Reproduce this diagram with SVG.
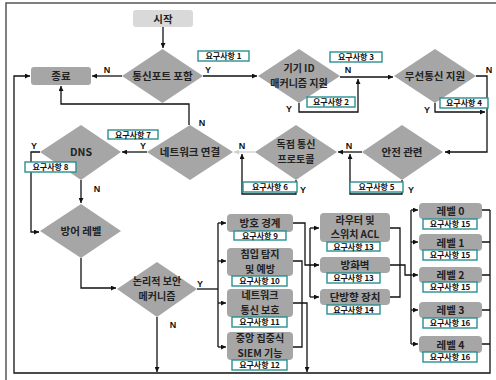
<svg xmlns="http://www.w3.org/2000/svg" width="496" height="380" viewBox="0 0 496 380">
<style>
.d{fill:#a6a6a6}
.b{fill:#a6a6a6}
.s{fill:#d9d9d9}
.l{fill:#fff;stroke:#2a9090;stroke-width:1.4}
.t{font-family:"Noto Sans CJK KR","Noto Sans",sans-serif;font-weight:bold;font-size:10.5px;fill:#222;text-anchor:middle}
.t2{font-family:"Noto Sans CJK KR","Noto Sans",sans-serif;font-weight:bold;font-size:10px;fill:#222;text-anchor:middle}
.lt{font-family:"Noto Sans CJK KR","Noto Sans",sans-serif;font-weight:bold;font-size:8px;fill:#111;text-anchor:middle}
.yn{font-family:"Liberation Sans",Arial,sans-serif;font-weight:bold;font-size:9px;fill:#111;text-anchor:middle}
.c{fill:none;stroke:#111;stroke-width:1.3}
.cg{fill:none;stroke:#d0d0d0;stroke-width:1.3}
</style>
<defs>
<marker id="a" viewBox="0 0 6 6" refX="6" refY="3" markerWidth="5" markerHeight="5" markerUnits="userSpaceOnUse" orient="auto"><path d="M0,0L6,3L0,6z" fill="#111"/></marker>
<marker id="ag" viewBox="0 0 6 6" refX="6" refY="3" markerWidth="5" markerHeight="5" markerUnits="userSpaceOnUse" orient="auto"><path d="M0,0L6,3L0,6z" fill="#d0d0d0"/></marker>
</defs>
<path d="M6,380V3H496" fill="none" stroke="#555" stroke-width="1.5"/>
<g id="connectors">
<path class="c" d="M163,27V48" marker-end="url(#a)"/>
<path class="c" d="M122,76H92" marker-end="url(#a)"/>
<path class="c" d="M203,76H257" marker-end="url(#a)"/>
<path class="c" d="M340,77H393" marker-end="url(#a)"/>
<path class="c" d="M299,103V112H358V79" marker-end="url(#a)"/>
<path class="c" d="M476,76H487V152H445" marker-end="url(#a)"/>
<path class="c" d="M435,103V112H485" marker-end="url(#a)"/>
<path class="c" d="M362,152H338" marker-end="url(#a)"/>
<path class="c" d="M402,180V194H350V154" marker-end="url(#a)"/>
<path class="cg" d="M255,152H234" marker-end="url(#ag)"/>
<path class="c" d="M296,180V194H242V154" marker-end="url(#a)"/>
<path class="c" d="M189,125V104H61V86" marker-end="url(#a)"/>
<path class="c" d="M147,152H122" marker-end="url(#a)"/>
<path class="c" d="M40,152H31V232H39" marker-end="url(#a)"/>
<path class="c" d="M81,180V203" marker-end="url(#a)"/>
<path class="c" d="M81,258V288H116" marker-end="url(#a)"/>
<path class="c" d="M157,317V372" marker-end="url(#a)"/>
<path class="c" d="M197,289H218"/>
<path class="c" d="M218,223V347"/>
<path class="c" d="M218,223H226" marker-end="url(#a)"/>
<path class="c" d="M218,261H226" marker-end="url(#a)"/>
<path class="c" d="M218,303H226" marker-end="url(#a)"/>
<path class="c" d="M218,347H226" marker-end="url(#a)"/>
<path class="c" d="M293,223H305V265H319" marker-end="url(#a)"/>
<path class="c" d="M310,228V297"/>
<path class="c" d="M310,228H319" marker-end="url(#a)"/>
<path class="c" d="M310,297H319" marker-end="url(#a)"/>
<path class="c" d="M293,261H302V347H293"/>
<path class="c" d="M293,303H307V372" marker-end="url(#a)"/>
<path class="c" d="M390,228H400V297H390"/>
<path class="c" d="M390,265H405V275H411"/>
<path class="c" d="M411,210V344"/>
<path class="c" d="M411,210H418" marker-end="url(#a)"/>
<path class="c" d="M411,242H418" marker-end="url(#a)"/>
<path class="c" d="M411,275H418" marker-end="url(#a)"/>
<path class="c" d="M411,310H418" marker-end="url(#a)"/>
<path class="c" d="M411,344H418" marker-end="url(#a)"/>
<path class="c" d="M482,210H490M482,242H490M482,275H490M482,310H490M482,344H490"/>
<path class="c" d="M490,210V373H14V76H30" marker-end="url(#a)"/>
<text class="yn" x="107" y="73">N</text>
<text class="yn" x="208" y="73">Y</text>
<text class="yn" x="348" y="73">N</text>
<text class="yn" x="289" y="112">Y</text>
<text class="yn" x="489" y="73">N</text>
<text class="yn" x="427" y="113">Y</text>
<text class="yn" x="349" y="149">N</text>
<text class="yn" x="411" y="193">Y</text>
<text class="yn" x="242" y="149">N</text>
<text class="yn" x="303" y="193">Y</text>
<text class="yn" x="202" y="126">N</text>
<text class="yn" x="143" y="149">Y</text>
<text class="yn" x="34" y="149">Y</text>
<text class="yn" x="97" y="192">N</text>
<text class="yn" x="200" y="287">Y</text>
<text class="yn" x="173" y="328">N</text>
</g>
<g id="start"><rect class="s" x="133" y="10" width="60" height="17" rx="3"/><text class="t" x="163" y="22.5">시작</text></g>
<g id="end"><rect class="b" x="31" y="67" width="60" height="18" rx="3"/><text class="t" x="61" y="80">종료</text></g>
<g id="commport"><polygon class="d" points="162.5,49 203,76 162.5,103 122,76"/><text class="t" x="162.5" y="80">통신포트 포함</text><rect class="l" x="198" y="51" width="51" height="10"/><text class="lt" x="223.5" y="59">요구사항 1</text></g>
<g id="deviceid"><polygon class="d" points="299,49 340,76 299,103 258,76"/><text class="t2" x="299" y="72">기기 ID</text><text class="t2" x="299" y="86.5">매커니즘 지원</text><rect class="l" x="307" y="97" width="48" height="10"/><text class="lt" x="331" y="105">요구사항 2</text><rect class="l" x="330" y="52" width="52" height="10"/><text class="lt" x="356" y="60">요구사항 3</text></g>
<g id="wireless"><polygon class="d" points="435,49 476,76 435,103 394,76"/><text class="t" x="435" y="80">무선통신 지원</text><rect class="l" x="440" y="98" width="48" height="10"/><text class="lt" x="464" y="106">요구사항 4</text></g>
<g id="safety"><polygon class="d" points="402,125 443,152 402,180 362,152"/><text class="t" x="402" y="156">안전 관련</text><rect class="l" x="350" y="182" width="53" height="10"/><text class="lt" x="376.5" y="190">요구사항 5</text></g>
<g id="proprietary"><polygon class="d" points="296,125 337,152 296,180 255,152"/><text class="t2" x="296" y="148">독점 통신</text><text class="t2" x="296" y="162.5">프로토콜</text><rect class="l" x="243" y="182" width="54" height="10"/><text class="lt" x="270" y="190">요구사항 6</text></g>
<g id="netconn"><polygon class="d" points="190,125 233,152 190,180 147,152"/><text class="t" x="190" y="156">네트워크 연결</text><rect class="l" x="108" y="130" width="50" height="9"/><text class="lt" x="133" y="137.8">요구사항 7</text></g>
<g id="dns"><polygon class="d" points="81,125 121,152 81,180 40,152"/><text class="t" x="81" y="156">DNS</text><rect class="l" x="25" y="162" width="51" height="10"/><text class="lt" x="50.5" y="170">요구사항 8</text></g>
<g id="deflevel"><polygon class="d" points="81,204 121,231 81,258 40,231"/><text class="t" x="81" y="235">방어 레벨</text></g>
<g id="logical"><polygon class="d" points="157,262 197,289 157,317 117,289"/><text class="t2" x="157" y="285">논리적 보안</text><text class="t2" x="157" y="299.5">메커니즘</text></g>
<g id="perimeter"><rect class="b" x="227" y="214" width="66" height="18" rx="4"/><text class="t" x="260" y="226.5">방호 경계</text><rect class="l" x="234" y="231" width="52" height="9"/><text class="lt" x="260" y="238.8">요구사항 9</text></g>
<g id="ids"><rect class="b" x="227" y="248" width="66" height="28" rx="4"/><text class="t2" x="260" y="258.3">침입 탐지</text><text class="t2" x="260" y="272.8">및 예방</text><rect class="l" x="232" y="276" width="55" height="10"/><text class="lt" x="259.5" y="284">요구사항 10</text></g>
<g id="netprot"><rect class="b" x="227" y="289" width="66" height="28" rx="4"/><text class="t2" x="260" y="299.3">네트워크</text><text class="t2" x="260" y="313.8">통신 보호</text><rect class="l" x="232" y="317" width="55" height="10"/><text class="lt" x="259.5" y="325">요구사항 11</text></g>
<g id="siem"><rect class="b" x="227" y="332" width="66" height="28" rx="4"/><text class="t2" x="260" y="342.3">중앙 집중식</text><text class="t2" x="260" y="356.8">SIEM 기능</text><rect class="l" x="232" y="360" width="55" height="10"/><text class="lt" x="259.5" y="368">요구사항 12</text></g>
<g id="router"><rect class="b" x="320" y="213" width="70" height="29" rx="4"/><text class="t2" x="355" y="223.8">라우터 및</text><text class="t2" x="355" y="238.3">스위치 ACL</text><rect class="l" x="327" y="242" width="53" height="9"/><text class="lt" x="353.5" y="249.8">요구사항 13</text></g>
<g id="firewall"><rect class="b" x="320" y="257" width="70" height="16" rx="4"/><text class="t" x="355" y="269">방화벽</text><rect class="l" x="327" y="273" width="53" height="10"/><text class="lt" x="353.5" y="281">요구사항 13</text></g>
<g id="oneway"><rect class="b" x="320" y="289" width="70" height="16" rx="4"/><text class="t" x="355" y="301">단방향 장치</text><rect class="l" x="327" y="305" width="53" height="9"/><text class="lt" x="353.5" y="312.8">요구사항 14</text></g>
<g id="level0"><rect class="b" x="419" y="203" width="63" height="16" rx="4"/><text class="t" x="450.5" y="215">레벨 0</text><rect class="l" x="423" y="219" width="54" height="10"/><text class="lt" x="450" y="227">요구사항 15</text></g>
<g id="level1"><rect class="b" x="419" y="234" width="63" height="17" rx="4"/><text class="t" x="450.5" y="247">레벨 1</text><rect class="l" x="423" y="250" width="54" height="10"/><text class="lt" x="450" y="258">요구사항 15</text></g>
<g id="level2"><rect class="b" x="419" y="267" width="63" height="16" rx="4"/><text class="t" x="450.5" y="279">레벨 2</text><rect class="l" x="423" y="282" width="54" height="10"/><text class="lt" x="450" y="290">요구사항 15</text></g>
<g id="level3"><rect class="b" x="419" y="302" width="63" height="16" rx="4"/><text class="t" x="450.5" y="314">레벨 3</text><rect class="l" x="423" y="318" width="54" height="10"/><text class="lt" x="450" y="326">요구사항 16</text></g>
<g id="level4"><rect class="b" x="419" y="336" width="63" height="17" rx="4"/><text class="t" x="450.5" y="348.5">레벨 4</text><rect class="l" x="423" y="352" width="54" height="10"/><text class="lt" x="450" y="360">요구사항 16</text></g>
</svg>
